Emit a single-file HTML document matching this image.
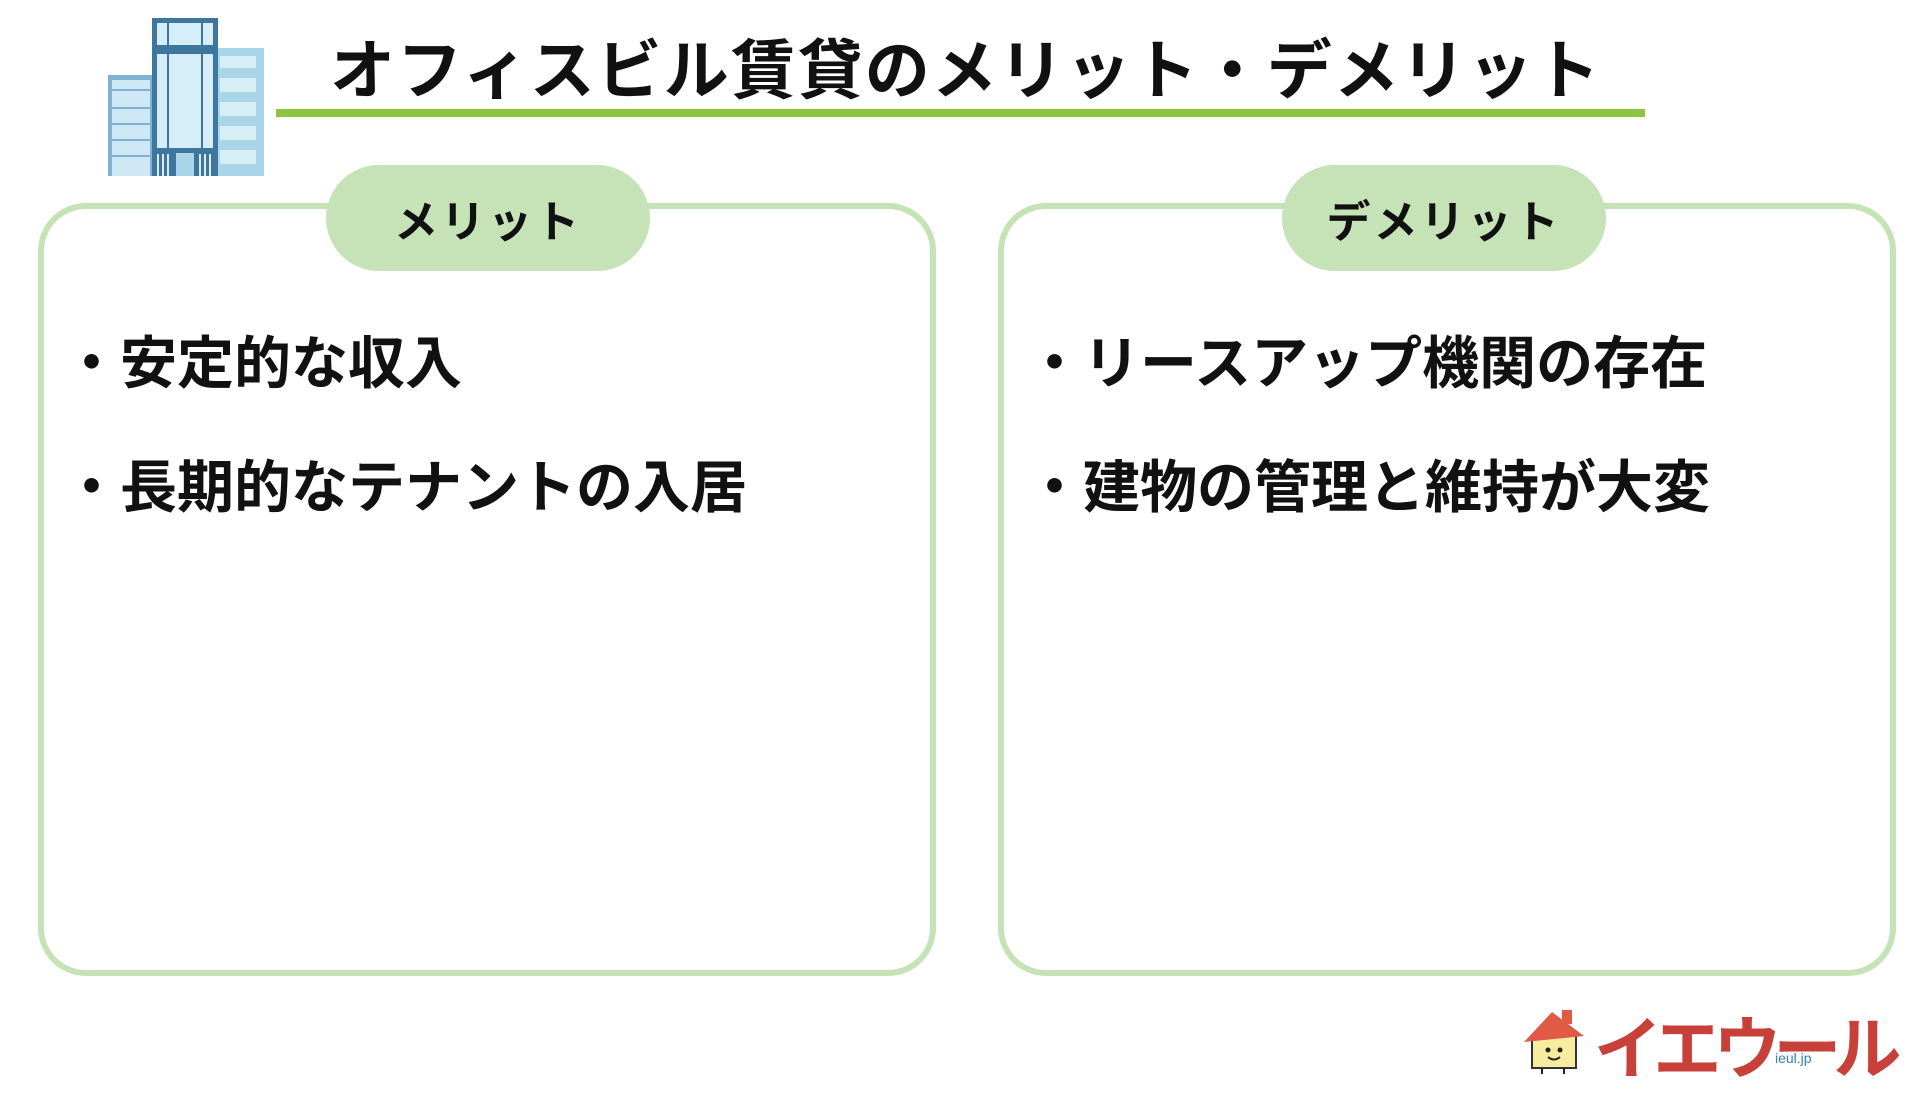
<!DOCTYPE html>
<html><head><meta charset="utf-8"><style>
body{margin:0;width:1920px;height:1080px;background:#fff;position:relative;overflow:hidden;font-family:"Liberation Sans","Noto Sans CJK JP",sans-serif;font-weight:bold;color:#111}
.abs{position:absolute}
.box{position:absolute;border:6px solid #c5e3b6;border-radius:48px;box-sizing:border-box}
.pill{position:absolute;background:#c5e3b6;border-radius:60px;display:flex;align-items:center;justify-content:center;font-size:44px;letter-spacing:3px}
.item{position:absolute;font-size:57px;white-space:nowrap;line-height:1}
</style></head><body>
<svg class="abs" style="left:108px;top:18px" width="156" height="158" viewBox="0 0 156 158">
<rect x="0" y="57" width="44" height="101" fill="#7fb3d3"/>
<rect x="4" y="62" width="38" height="96" fill="#cfe8f5"/>
<g stroke="#7fb3d3" stroke-width="2"><line x1="4" y1="72" x2="44" y2="72"/><line x1="4" y1="90" x2="44" y2="90"/><line x1="4" y1="106" x2="44" y2="106"/><line x1="4" y1="122" x2="44" y2="122"/><line x1="4" y1="138" x2="44" y2="138"/></g>
<rect x="110" y="30" width="46" height="128" fill="#a8d6e8"/>
<g fill="#d7eef7"><rect x="112" y="38" width="36" height="12"/><rect x="112" y="60" width="36" height="14"/><rect x="112" y="84" width="36" height="14"/><rect x="112" y="108" width="36" height="14"/><rect x="112" y="132" width="36" height="14"/></g>
<rect x="44" y="0" width="66" height="158" fill="#3f76a0"/>
<rect x="49" y="5" width="56" height="22" fill="#d6eef9"/>
<rect x="49" y="36" width="56" height="94" fill="#d6eef9"/>
<g stroke="#3f76a0" stroke-width="2"><line x1="60" y1="5" x2="60" y2="130"/><line x1="94" y1="5" x2="94" y2="130"/></g>
<rect x="68" y="135" width="18" height="23" fill="#a8d6e8"/>
<g stroke="#d6eef9" stroke-width="2"><line x1="50" y1="136" x2="50" y2="158"/><line x1="55" y1="136" x2="55" y2="158"/><line x1="60" y1="136" x2="60" y2="158"/><line x1="92" y1="136" x2="92" y2="158"/><line x1="97" y1="136" x2="97" y2="158"/><line x1="102" y1="136" x2="102" y2="158"/></g>
</svg>
<div class="abs" style="left:330px;top:18px;font-size:65px;letter-spacing:2px;white-space:nowrap">オフィスビル賃貸のメリット・デメリット</div>
<div class="abs" style="left:276px;top:109px;width:1369px;height:8px;background:#8cc63f"></div>

<div class="box" style="left:38px;top:203px;width:898px;height:773px"></div>
<div class="pill" style="left:326px;top:165px;width:324px;height:106px">メリット</div>
<div class="item" style="left:63px;top:336px">・安定的な収入</div>
<div class="item" style="left:63px;top:460px">・長期的なテナントの入居</div>

<div class="box" style="left:998px;top:203px;width:898px;height:773px"></div>
<div class="pill" style="left:1282px;top:165px;width:324px;height:106px">デメリット</div>
<div class="item" style="left:1026px;top:336px">・リースアップ機関の存在</div>
<div class="item" style="left:1026px;top:460px">・建物の管理と維持が大変</div>

<svg class="abs" style="left:1522px;top:1006px" width="70" height="72" viewBox="0 0 70 72">
<rect x="40" y="4" width="10" height="14" fill="#e05a45"/>
<rect x="10" y="30" width="44" height="32" fill="#f7eba0" stroke="#333" stroke-width="2"/>
<polygon points="2,36 30,6 62,30" fill="#e05a45"/>
<circle cx="26" cy="44" r="2.5" fill="#222"/><circle cx="38" cy="44" r="2.5" fill="#222"/>
<path d="M26 51 Q32 56 38 51" stroke="#222" stroke-width="2" fill="none"/>
<line x1="20" y1="62" x2="20" y2="68" stroke="#222" stroke-width="2"/><line x1="42" y1="62" x2="42" y2="68" stroke="#222" stroke-width="2"/>
</svg>
<div class="abs" style="left:1594px;top:994px;font-size:68px;color:#c8403a;font-weight:bold;white-space:nowrap;letter-spacing:-8px">イエウール</div>
<div class="abs" style="left:1775px;top:1050px;font-size:14px;color:#3a7fb0;font-weight:normal">ieul.jp</div>
</body></html>
